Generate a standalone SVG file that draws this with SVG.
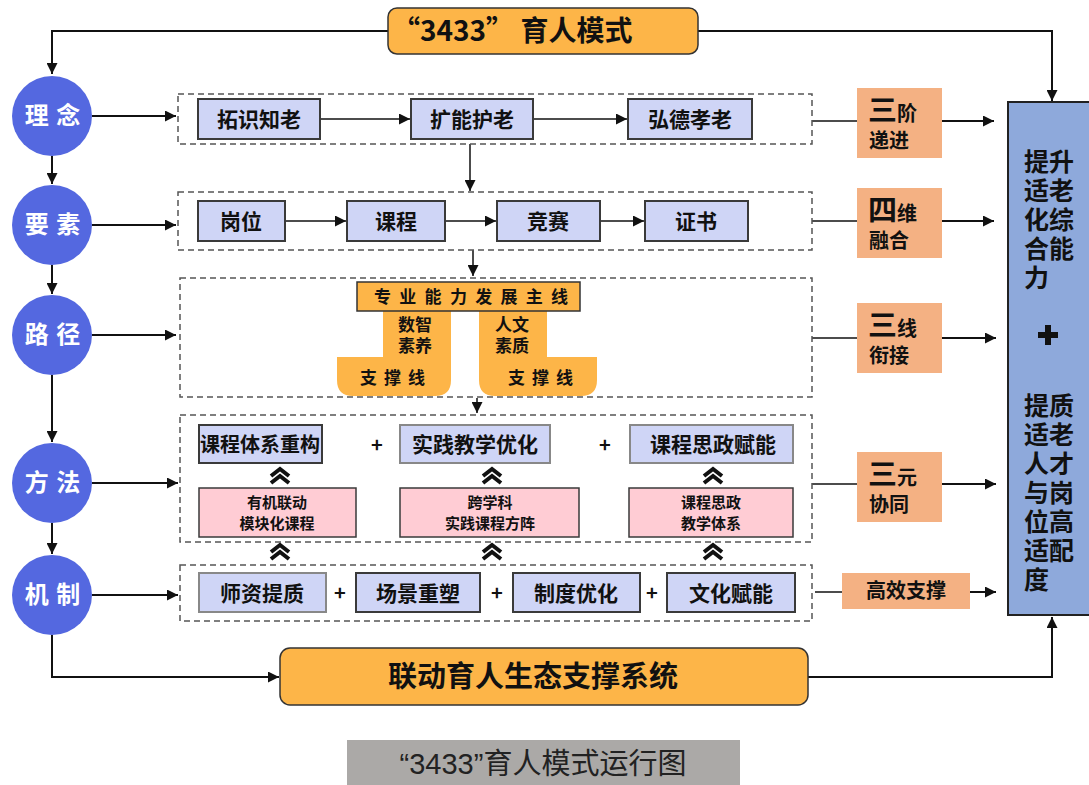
<svg xmlns="http://www.w3.org/2000/svg" width="1089" height="785" viewBox="0 0 1089 785">
<defs>
<style>
.t{font-family:"Liberation Sans","Noto Sans CJK SC",sans-serif;font-weight:bold;fill:#111;}
.cjk{font-family:"Noto Sans CJK SC",sans-serif;font-weight:bold;fill:#111;}
.circ{fill:#5468E0;}
.ctext{font-family:"Noto Sans CJK SC",sans-serif;font-weight:bold;fill:#fff;font-size:24px;letter-spacing:1px;}
.dash{fill:none;stroke:#555;stroke-width:1.5;stroke-dasharray:6,4;}
.lav{fill:#CFD5F6;stroke:#3a3a3a;stroke-width:2;}
.pink{fill:#FFCCD4;stroke:#3a3a3a;stroke-width:1.5;}
.peach{fill:#F4B183;}
.orange{fill:#FDB548;stroke:#333;stroke-width:1.5;}
.ln{fill:none;stroke:#111;stroke-width:2;}
.ln1{fill:none;stroke:#111;stroke-width:1.5;}
</style>
<marker id="ah" viewBox="0 0 10 10" refX="10" refY="5" markerWidth="11" markerHeight="11" markerUnits="userSpaceOnUse" orient="auto">
<path d="M0,0 L10,5 L0,10 z" fill="#111"/>
</marker>
<g id="chev">
<path d="M-9,1 L0,-6 L9,1" fill="none" stroke="#111" stroke-width="4"/>
<path d="M-9,8 L0,1 L9,8" fill="none" stroke="#111" stroke-width="4"/>
</g>
</defs>
<rect width="1089" height="785" fill="#fff"/>

<g id="connectors">
<path class="ln" d="M388,31 H52 V74" marker-end="url(#ah)"/>
<path class="ln" d="M698,31 H1052 V101" marker-end="url(#ah)"/>
<path class="ln" d="M52,156 V184" marker-end="url(#ah)"/>
<path class="ln" d="M52,265 V294" marker-end="url(#ah)"/>
<path class="ln" d="M52,375 V442" marker-end="url(#ah)"/>
<path class="ln" d="M52,523 V554" marker-end="url(#ah)"/>
<path class="ln" d="M92,116 H176" marker-end="url(#ah)"/>
<path class="ln" d="M92,225 H176" marker-end="url(#ah)"/>
<path class="ln" d="M92,335 H176" marker-end="url(#ah)"/>
<path class="ln" d="M92,483 H178" marker-end="url(#ah)"/>
<path class="ln" d="M92,595 H178" marker-end="url(#ah)"/>
<path class="ln" d="M52,635 V677 H279" marker-end="url(#ah)"/>
<path class="ln" d="M808,677 H1052 V617" marker-end="url(#ah)"/>
<path class="ln1" d="M320,119 H410" marker-end="url(#ah)"/>
<path class="ln1" d="M533,119 H627" marker-end="url(#ah)"/>
<path class="ln1" d="M285,221 H346" marker-end="url(#ah)"/>
<path class="ln1" d="M445,221 H496" marker-end="url(#ah)"/>
<path class="ln1" d="M600,221 H644" marker-end="url(#ah)"/>
<path class="ln1" d="M470,144 V191" marker-end="url(#ah)"/>
<path class="ln1" d="M473,250 V276" marker-end="url(#ah)"/>
<path class="ln1" d="M477,398 V413" marker-end="url(#ah)"/>
<path class="ln1" d="M812,121 H857"/>
<path class="ln" d="M942,121 H994" marker-end="url(#ah)"/>
<path class="ln1" d="M812,221 H857"/>
<path class="ln" d="M942,221 H994" marker-end="url(#ah)"/>
<path class="ln1" d="M812,338 H857"/>
<path class="ln" d="M942,338 H996" marker-end="url(#ah)"/>
<path class="ln1" d="M812,484 H857"/>
<path class="ln" d="M942,484 H996" marker-end="url(#ah)"/>
<path class="ln1" d="M815,592 H842"/>
<path class="ln" d="M970,592 H996" marker-end="url(#ah)"/>
</g>

<g id="title">
<rect class="orange" x="388" y="8" width="310" height="46" rx="9"/>
<text class="cjk" x="392" y="41" font-size="28">“3433” 育人模式</text>
</g>

<g id="c-linian"><circle class="circ" cx="52" cy="116" r="40"/><text class="ctext" x="53" y="124" text-anchor="middle">理 念</text></g>
<g id="c-yaosu"><circle class="circ" cx="52" cy="225" r="40"/><text class="ctext" x="53" y="233" text-anchor="middle">要 素</text></g>
<g id="c-lujing"><circle class="circ" cx="52" cy="335" r="40"/><text class="ctext" x="53" y="343" text-anchor="middle">路 径</text></g>
<g id="c-fangfa"><circle class="circ" cx="52" cy="483" r="40"/><text class="ctext" x="53" y="491" text-anchor="middle">方 法</text></g>
<g id="c-jizhi"><circle class="circ" cx="52" cy="595" r="40"/><text class="ctext" x="53" y="603" text-anchor="middle">机 制</text></g>

<g id="row1">
<rect class="dash" x="178" y="94" width="634" height="50"/>
<rect class="lav" x="198" y="99" width="122" height="40"/>
<text class="cjk" x="259" y="127" font-size="21" text-anchor="middle">拓识知老</text>
<rect class="lav" x="411" y="99" width="122" height="40"/>
<text class="cjk" x="472" y="127" font-size="21" text-anchor="middle">扩能护老</text>
<rect class="lav" x="628" y="99" width="124" height="40"/>
<text class="cjk" x="690" y="127" font-size="21" text-anchor="middle">弘德孝老</text>
</g>

<g id="row2">
<rect class="dash" x="178" y="192" width="634" height="58"/>
<rect class="lav" x="198" y="201" width="87" height="40"/>
<text class="cjk" x="241" y="229" font-size="21" text-anchor="middle">岗位</text>
<rect class="lav" x="347" y="201" width="98" height="40"/>
<text class="cjk" x="396" y="229" font-size="21" text-anchor="middle">课程</text>
<rect class="lav" x="497" y="201" width="103" height="40"/>
<text class="cjk" x="548" y="229" font-size="21" text-anchor="middle">竞赛</text>
<rect class="lav" x="645" y="201" width="103" height="40"/>
<text class="cjk" x="696" y="229" font-size="21" text-anchor="middle">证书</text>
</g>

<g id="row3">
<rect class="dash" x="180" y="278" width="632" height="119"/>
<path d="M383,311 H451 V380 Q451,396 435,396 H353 Q337,396 337,380 V357 H383 Z" fill="#FDB548"/>
<path d="M479,311 H547 V357 H597 V380 Q597,396 581,396 H495 Q479,396 479,380 Z" fill="#FDB548"/>
<rect class="orange" x="357" y="282" width="223" height="29"/>
<text class="cjk" x="374" y="303" font-size="17" letter-spacing="8.3">专业能力发展主线</text>
<text class="cjk" x="398" y="331" font-size="17">数智</text>
<text class="cjk" x="398" y="352" font-size="17">素养</text>
<text class="cjk" x="495" y="331" font-size="17">人文</text>
<text class="cjk" x="495" y="352" font-size="17">素质</text>
<text class="cjk" x="360" y="384" font-size="17" letter-spacing="7">支撑线</text>
<text class="cjk" x="508" y="384" font-size="17" letter-spacing="7">支撑线</text>
</g>

<g id="row4">
<rect class="dash" x="180" y="415" width="632" height="127"/>
<rect class="lav" x="199" y="425" width="123" height="38"/>
<text class="cjk" x="260" y="452" font-size="20" text-anchor="middle">课程体系重构</text>
<text class="cjk" x="377" y="452" font-size="20" text-anchor="middle">+</text>
<rect class="lav" x="400" y="425" width="150" height="38" style="stroke:#888"/>
<text class="cjk" x="475" y="452" font-size="21" text-anchor="middle">实践教学优化</text>
<text class="cjk" x="605" y="452" font-size="20" text-anchor="middle">+</text>
<rect class="lav" x="630" y="425" width="163" height="38" style="stroke:#888"/>
<text class="cjk" x="713" y="452" font-size="21" text-anchor="middle">课程思政赋能</text>
<use href="#chev" x="280" y="475"/>
<use href="#chev" x="492" y="475"/>
<use href="#chev" x="713" y="475"/>
<rect class="pink" x="199" y="488" width="157" height="49"/>
<text class="cjk" x="277" y="508" font-size="15" text-anchor="middle">有机联动</text>
<text class="cjk" x="277" y="529" font-size="15" text-anchor="middle">模块化课程</text>
<rect class="pink" x="400" y="488" width="179" height="49"/>
<text class="cjk" x="490" y="508" font-size="15" text-anchor="middle">跨学科</text>
<text class="cjk" x="490" y="529" font-size="15" text-anchor="middle">实践课程方阵</text>
<rect class="pink" x="629" y="488" width="164" height="49"/>
<text class="cjk" x="711" y="508" font-size="15" text-anchor="middle">课程思政</text>
<text class="cjk" x="711" y="529" font-size="15" text-anchor="middle">教学体系</text>
</g>

<g id="row5">
<use href="#chev" x="280" y="551"/>
<use href="#chev" x="492" y="551"/>
<use href="#chev" x="713" y="551"/>
<rect class="dash" x="180" y="565" width="632" height="56"/>
<rect class="lav" x="199" y="573" width="127" height="39" style="stroke:#888"/>
<text class="cjk" x="262" y="601" font-size="21" text-anchor="middle">师资提质</text>
<text class="cjk" x="340" y="600" font-size="20" text-anchor="middle">+</text>
<rect class="lav" x="356" y="573" width="124" height="39"/>
<text class="cjk" x="418" y="601" font-size="21" text-anchor="middle">场景重塑</text>
<text class="cjk" x="497" y="600" font-size="20" text-anchor="middle">+</text>
<rect class="lav" x="513" y="573" width="127" height="39"/>
<text class="cjk" x="576" y="601" font-size="21" text-anchor="middle">制度优化</text>
<text class="cjk" x="652" y="600" font-size="20" text-anchor="middle">+</text>
<rect class="lav" x="667" y="573" width="128" height="39"/>
<text class="cjk" x="731" y="601" font-size="21" text-anchor="middle">文化赋能</text>
</g>

<g id="p-sanjie">
<rect class="peach" x="857" y="88" width="85" height="70"/>
<text class="cjk" x="868" y="121" font-size="29">三<tspan font-size="20">阶</tspan></text>
<text class="cjk" x="869" y="148" font-size="20">递进</text>
</g>
<g id="p-siwei">
<rect class="peach" x="857" y="188" width="85" height="70"/>
<text class="cjk" x="868" y="221" font-size="29">四<tspan font-size="20">维</tspan></text>
<text class="cjk" x="869" y="248" font-size="20">融合</text>
</g>
<g id="p-sanxian">
<rect class="peach" x="857" y="303" width="85" height="70"/>
<text class="cjk" x="868" y="336" font-size="29">三<tspan font-size="20">线</tspan></text>
<text class="cjk" x="869" y="363" font-size="20">衔接</text>
</g>
<g id="p-sanyuan">
<rect class="peach" x="857" y="452" width="85" height="70"/>
<text class="cjk" x="868" y="485" font-size="29">三<tspan font-size="20">元</tspan></text>
<text class="cjk" x="869" y="512" font-size="20">协同</text>
</g>
<g id="p-gaoxiao">
<rect class="peach" x="842" y="573" width="128" height="36"/>
<text class="cjk" x="906" y="598" font-size="20" text-anchor="middle">高效支撑</text>
</g>

<g id="goal">
<rect x="1008" y="102" width="84" height="513" fill="#8EA9DB" stroke="#222" stroke-width="2"/>
<g class="cjk" font-size="25">
<text x="1024" y="171">提升</text>
<text x="1024" y="200">适老</text>
<text x="1024" y="229">化综</text>
<text x="1024" y="258">合能</text>
<text x="1024" y="287">力</text>
<text x="1024" y="415">提质</text>
<text x="1024" y="444">适老</text>
<text x="1024" y="473">人才</text>
<text x="1024" y="502">与岗</text>
<text x="1024" y="531">位高</text>
<text x="1024" y="560">适配</text>
<text x="1024" y="589">度</text>
</g>
<path d="M1048,325 V345 M1038,335 H1058" stroke="#111" stroke-width="6"/>
</g>

<g id="system">
<rect class="orange" x="280" y="648" width="528" height="57" rx="10"/>
<text class="cjk" x="533" y="687" font-size="29" text-anchor="middle">联动育人生态支撑系统</text>
</g>

<g id="caption">
<rect x="347" y="740" width="393" height="45" fill="#ABA9A7"/>
<text x="543" y="774" font-size="29" text-anchor="middle" fill="#222" font-family="Liberation Sans,Noto Sans CJK SC,sans-serif">“3433”育人模式运行图</text>
</g>
</svg>
